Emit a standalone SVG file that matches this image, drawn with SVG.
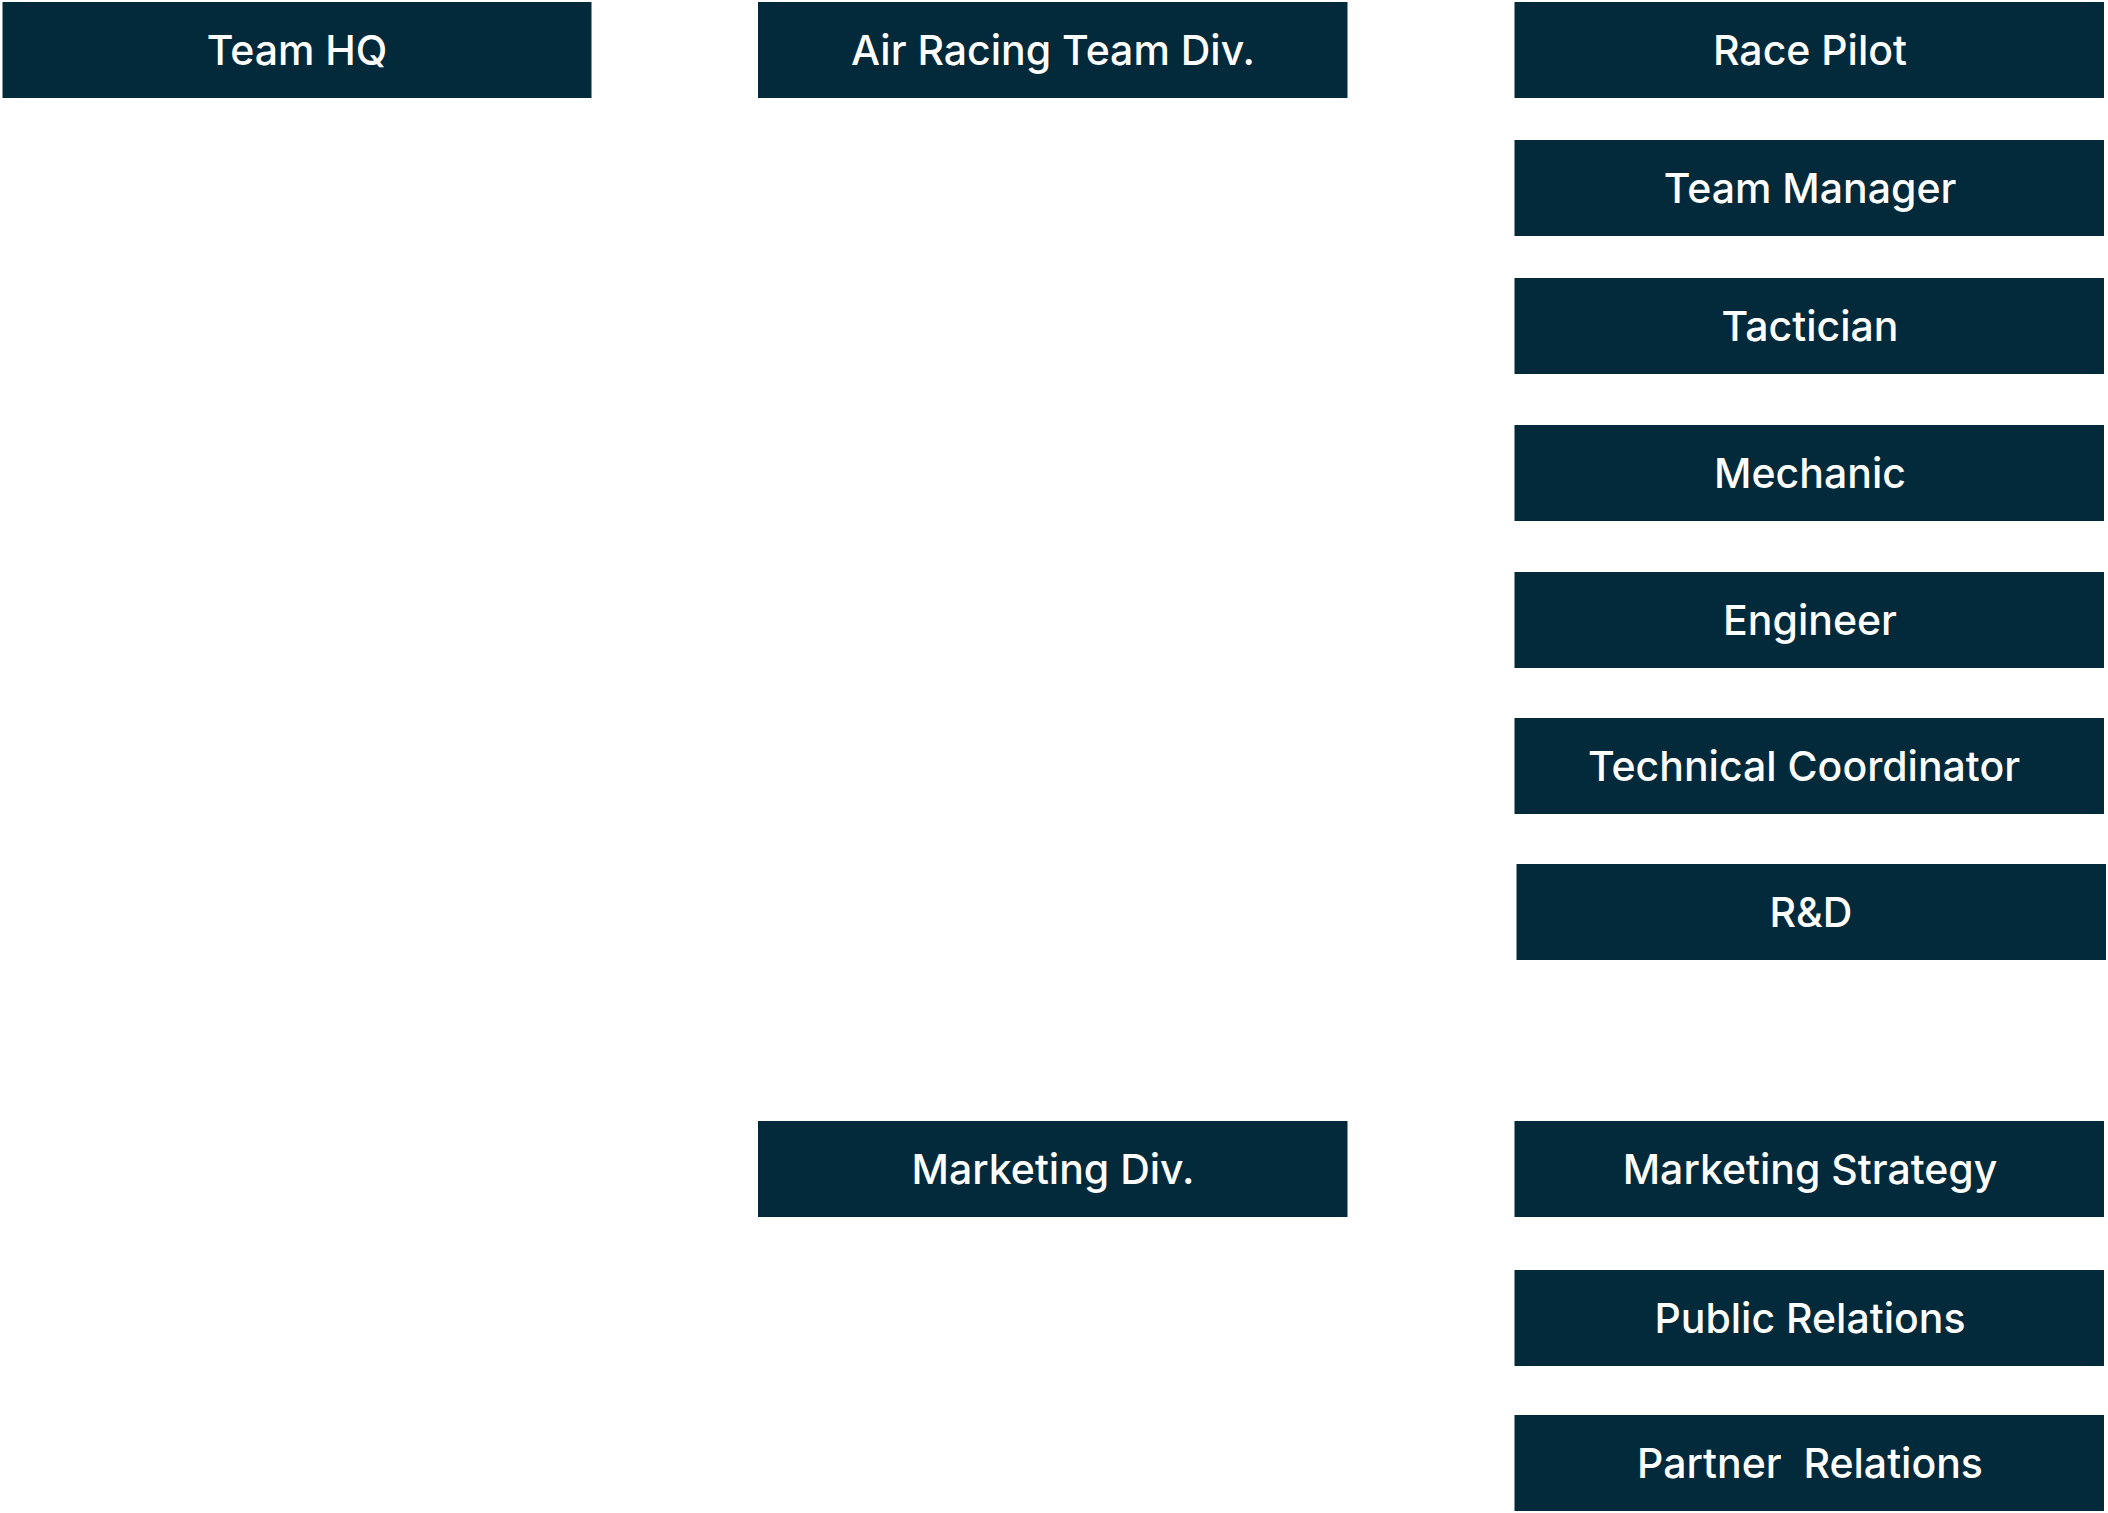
<svg xmlns="http://www.w3.org/2000/svg" width="2108" height="1513" viewBox="0 0 2108 1513">
<style>
.box{fill:#022a3b}
.lbl{fill:#ffffff;font-family:Inter,"Liberation Sans",Arial,sans-serif;font-size:41px;font-weight:500;text-anchor:middle;white-space:pre}
</style>
<rect width="2108" height="1513" fill="#ffffff"/>
<g id="connectors"/>
<g id="team-hq"><rect class="box" x="2.5" y="2" width="589" height="96"/><text class="lbl" x="297" y="65">Team HQ</text></g>
<g id="air-racing-team-div"><rect class="box" x="758" y="2" width="589.5" height="96"/><text class="lbl" x="1053" y="65">Air Racing Team Div.</text></g>
<g id="race-pilot"><rect class="box" x="1514.5" y="2" width="589.5" height="96"/><text class="lbl" x="1810" y="65">Race Pilot</text></g>
<g id="team-manager"><rect class="box" x="1514.5" y="140" width="589.5" height="96"/><text class="lbl" x="1810" y="203">Team Manager</text></g>
<g id="tactician"><rect class="box" x="1514.5" y="278" width="589.5" height="96"/><text class="lbl" x="1810" y="341">Tactician</text></g>
<g id="mechanic"><rect class="box" x="1514.5" y="425" width="589.5" height="96"/><text class="lbl" x="1810" y="488">Mechanic</text></g>
<g id="engineer"><rect class="box" x="1514.5" y="572" width="589.5" height="96"/><text class="lbl" x="1810" y="635">Engineer</text></g>
<g id="technical-coordinator"><rect class="box" x="1514.5" y="718" width="589.5" height="96"/><text class="lbl" x="1804" y="781">Technical Coordinator</text></g>
<g id="rd"><rect class="box" x="1516.5" y="864" width="589.5" height="96"/><text class="lbl" x="1811" y="927">R&amp;D</text></g>
<g id="marketing-div"><rect class="box" x="758" y="1121" width="589.5" height="96"/><text class="lbl" x="1053" y="1184">Marketing Div.</text></g>
<g id="marketing-strategy"><rect class="box" x="1514.5" y="1121" width="589.5" height="96"/><text class="lbl" x="1810" y="1184">Marketing Strategy</text></g>
<g id="public-relations"><rect class="box" x="1514.5" y="1270" width="589.5" height="96"/><text class="lbl" x="1810" y="1333">Public Relations</text></g>
<g id="partner-relations"><rect class="box" x="1514.5" y="1415" width="589.5" height="96"/><text class="lbl" x="1810" y="1478" xml:space="preserve">Partner  Relations</text></g>
</svg>
